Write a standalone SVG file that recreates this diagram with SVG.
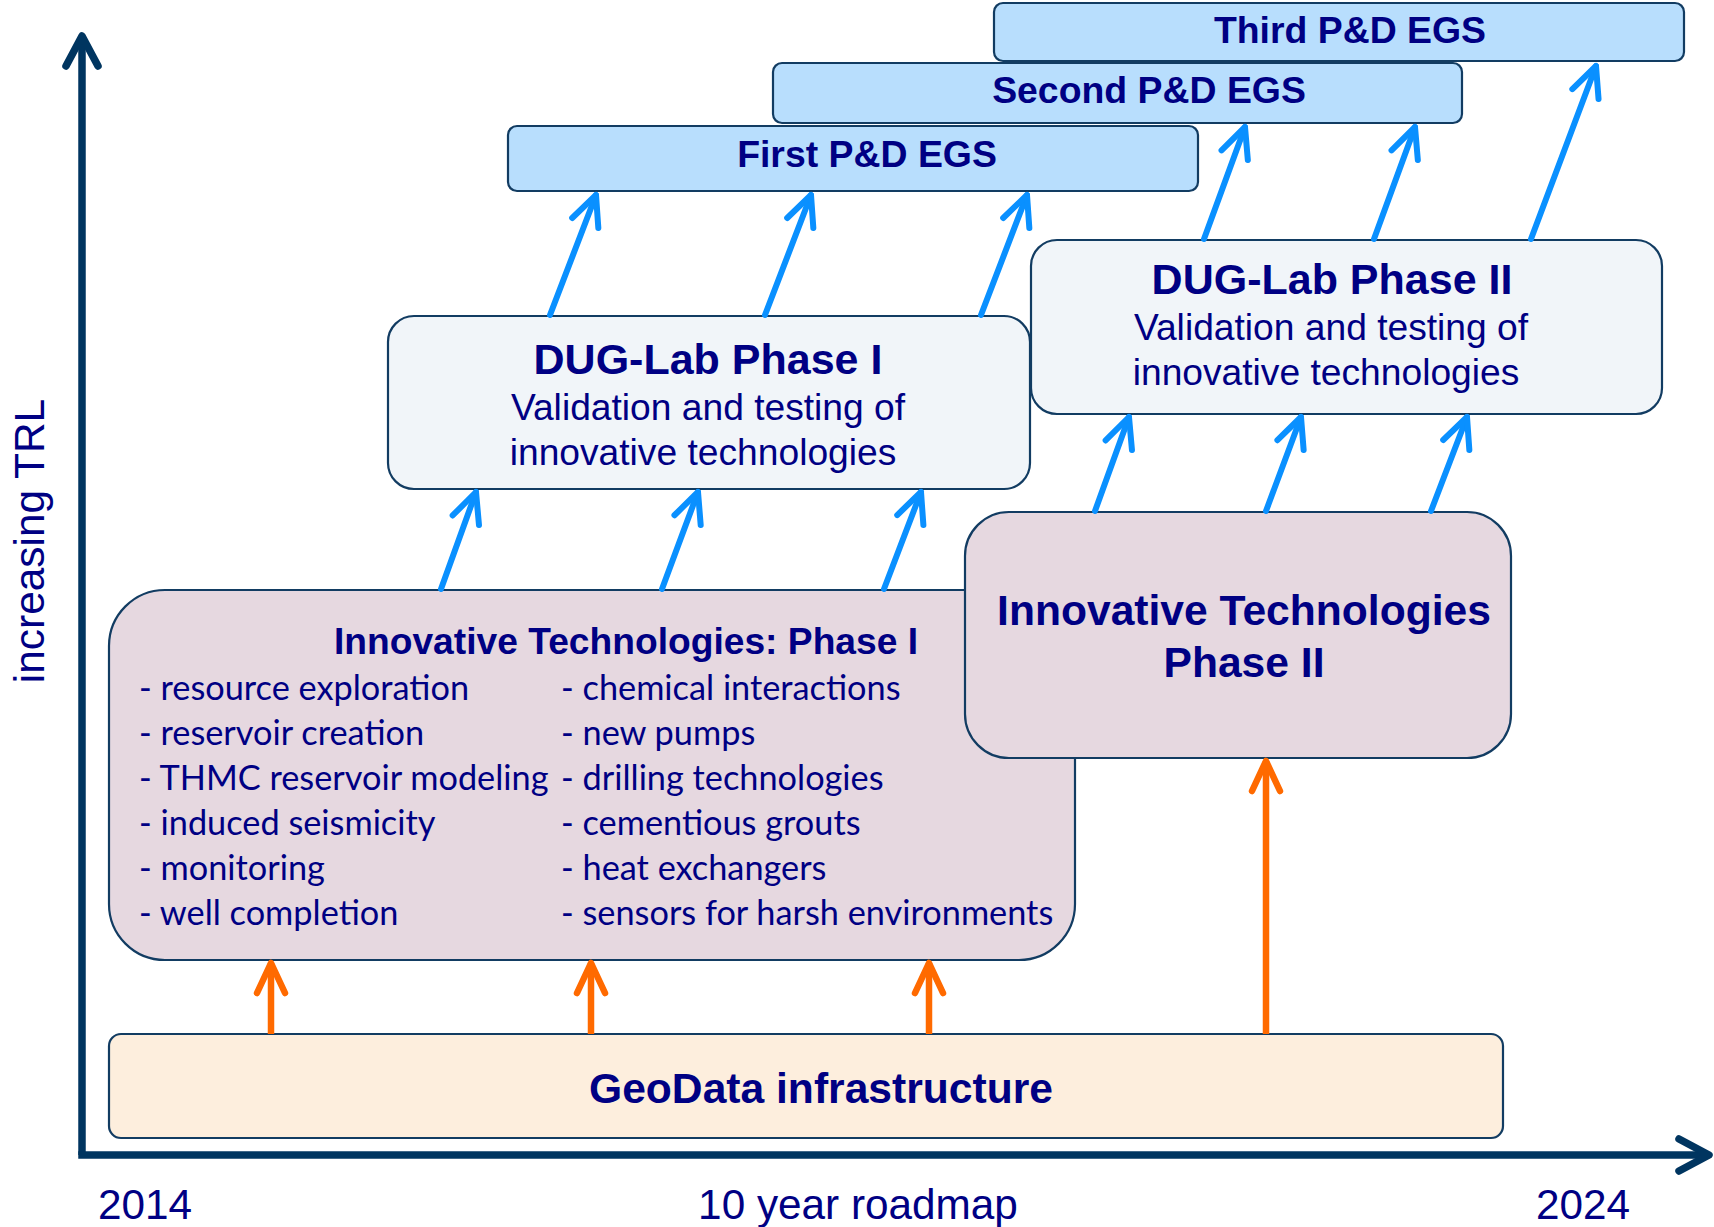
<svg xmlns="http://www.w3.org/2000/svg" width="1714" height="1227" viewBox="0 0 1714 1227">
  <style>
    .box { stroke: #123c62; stroke-width: 2.2; }
    .pd { fill: #b8defd; }
    .lab { fill: #f1f5f9; }
    .tech { fill: #e6d8e0; }
    .geo { fill: #fdeedd; }
    text { fill: #000083; font-family: "Liberation Sans", Arial, sans-serif; }
    .b { font-weight: bold; }
    .mid { text-anchor: middle; }
    .list { font-family: Lato, "Liberation Sans", sans-serif; font-size: 34.3px; }
    .blue { stroke: #0a90ff; stroke-width: 6; stroke-linecap: round; fill: none; marker-end: url(#headBlue); }
    .orange { stroke: #ff6a00; stroke-width: 6.5; stroke-linecap: butt; fill: none; marker-end: url(#headOrange); }
    .axis { stroke: #003560; stroke-width: 7.5; fill: none; }
  </style>
  <defs>
    <marker id="headBlue" markerUnits="userSpaceOnUse" viewBox="-40 -20 45 40" markerWidth="45" markerHeight="40" refX="0" refY="0" orient="auto" overflow="visible">
      <path d="M-30,-14 L0,0 L-30,14" fill="none" stroke="#0a90ff" stroke-width="6" stroke-linecap="round" stroke-linejoin="round"/>
    </marker>
    <marker id="headOrange" markerUnits="userSpaceOnUse" viewBox="-40 -20 45 40" markerWidth="45" markerHeight="40" refX="0" refY="0" orient="auto" overflow="visible">
      <path d="M-30,-14 L0,0 L-30,14" fill="none" stroke="#ff6a00" stroke-width="6.5" stroke-linecap="round" stroke-linejoin="round"/>
    </marker>
    <marker id="headAxis" markerUnits="userSpaceOnUse" viewBox="-40 -20 45 40" markerWidth="45" markerHeight="40" refX="0" refY="0" orient="auto" overflow="visible">
      <path d="M-30,-16 L0,0 L-30,16" fill="none" stroke="#003560" stroke-width="7.5" stroke-linecap="round" stroke-linejoin="round"/>
    </marker>
  </defs>

  <rect width="1714" height="1227" fill="#ffffff"/>

  <!-- axes -->
  <g id="axes">
    <path class="axis" d="M82,1155 L82,36" marker-end="url(#headAxis)"/>
    <path class="axis" d="M78.25,1155 L1709,1155" marker-end="url(#headAxis)"/>
    <text transform="translate(44,541) rotate(-90)" class="mid" font-size="42.4">increasing TRL</text>
    <text x="98" y="1219" font-size="42.3">2014</text>
    <text x="858" y="1219" class="mid" font-size="42.3">10 year roadmap</text>
    <text x="1536" y="1219" font-size="42.3">2024</text>
  </g>

  <!-- demonstration projects -->
  <g id="pd3">
    <rect class="box pd" x="994" y="3" width="690" height="58" rx="9"/>
    <text x="1350" y="43" class="b mid" font-size="37.4">Third P&amp;D EGS</text>
  </g>
  <g id="pd2">
    <rect class="box pd" x="773" y="63" width="689" height="60" rx="9"/>
    <text x="1149" y="103" class="b mid" font-size="37.4">Second P&amp;D EGS</text>
  </g>
  <g id="pd1">
    <rect class="box pd" x="508" y="126" width="690" height="65" rx="9"/>
    <text x="867" y="167" class="b mid" font-size="37.4">First P&amp;D EGS</text>
  </g>

  <!-- underground labs -->
  <g id="lab1">
    <rect class="box lab" x="388" y="316" width="642" height="173" rx="26"/>
    <text x="708" y="374" class="b mid" font-size="43">DUG-Lab Phase I</text>
    <text x="708" y="420" class="mid" font-size="37.2">Validation and testing of</text>
    <text x="703" y="465" class="mid" font-size="37.2">innovative technologies</text>
  </g>
  <g id="lab2">
    <rect class="box lab" x="1031" y="240" width="631" height="174" rx="26"/>
    <text x="1332" y="294" class="b mid" font-size="43">DUG-Lab Phase II</text>
    <text x="1331" y="340" class="mid" font-size="37.2">Validation and testing of</text>
    <text x="1326" y="385" class="mid" font-size="37.2">innovative technologies</text>
  </g>

  <!-- technology development -->
  <g id="tech1">
    <rect class="box tech" x="109" y="590" width="966" height="370" rx="56"/>
    <text x="626" y="654" class="b mid" font-size="37.2">Innovative Technologies: Phase I</text>
    <text class="list" x="139" y="700">- resource exploration</text>
    <text class="list" x="139" y="745">- reservoir creation</text>
    <text class="list" x="139" y="790">- THMC reservoir modeling</text>
    <text class="list" x="139" y="835">- induced seismicity</text>
    <text class="list" x="139" y="880">- monitoring</text>
    <text class="list" x="139" y="925">- well completion</text>
    <text class="list" x="561" y="700">- chemical interactions</text>
    <text class="list" x="561" y="745">- new pumps</text>
    <text class="list" x="561" y="790">- drilling technologies</text>
    <text class="list" x="561" y="835">- cementious grouts</text>
    <text class="list" x="561" y="880">- heat exchangers</text>
    <text class="list" x="561" y="925">- sensors for harsh environments</text>
  </g>
  <g id="tech2">
    <rect class="box tech" x="965" y="512" width="546" height="246" rx="44"/>
    <text x="1244" y="625" class="b mid" font-size="42.6">Innovative Technologies</text>
    <text x="1244" y="677" class="b mid" font-size="42.6">Phase II</text>
  </g>

  <!-- data infrastructure -->
  <g id="geodata">
    <rect class="box geo" x="109" y="1034" width="1394" height="104" rx="12"/>
    <text x="821" y="1103" class="b mid" font-size="42.6">GeoData infrastructure</text>
  </g>

  <!-- connectors -->
  <g id="connectors">
    <line class="orange" x1="271" y1="1034" x2="271" y2="963"/>
    <line class="orange" x1="591" y1="1034" x2="591" y2="963"/>
    <line class="orange" x1="929" y1="1034" x2="929" y2="963"/>
    <line class="orange" x1="1266" y1="1034" x2="1266" y2="761"/>

    <line class="blue" x1="441" y1="589" x2="476" y2="492"/>
    <line class="blue" x1="662" y1="589" x2="698" y2="492"/>
    <line class="blue" x1="884" y1="589" x2="921" y2="492"/>

    <line class="blue" x1="1095" y1="511" x2="1129" y2="417"/>
    <line class="blue" x1="1266" y1="511" x2="1301" y2="417"/>
    <line class="blue" x1="1431" y1="511" x2="1467" y2="417"/>

    <line class="blue" x1="550" y1="315" x2="596" y2="195"/>
    <line class="blue" x1="765" y1="315" x2="811" y2="195"/>
    <line class="blue" x1="981" y1="315" x2="1027" y2="195"/>

    <line class="blue" x1="1204" y1="239" x2="1245" y2="127"/>
    <line class="blue" x1="1374" y1="239" x2="1415" y2="127"/>
    <line class="blue" x1="1531" y1="239" x2="1596" y2="66"/>
  </g>
</svg>
